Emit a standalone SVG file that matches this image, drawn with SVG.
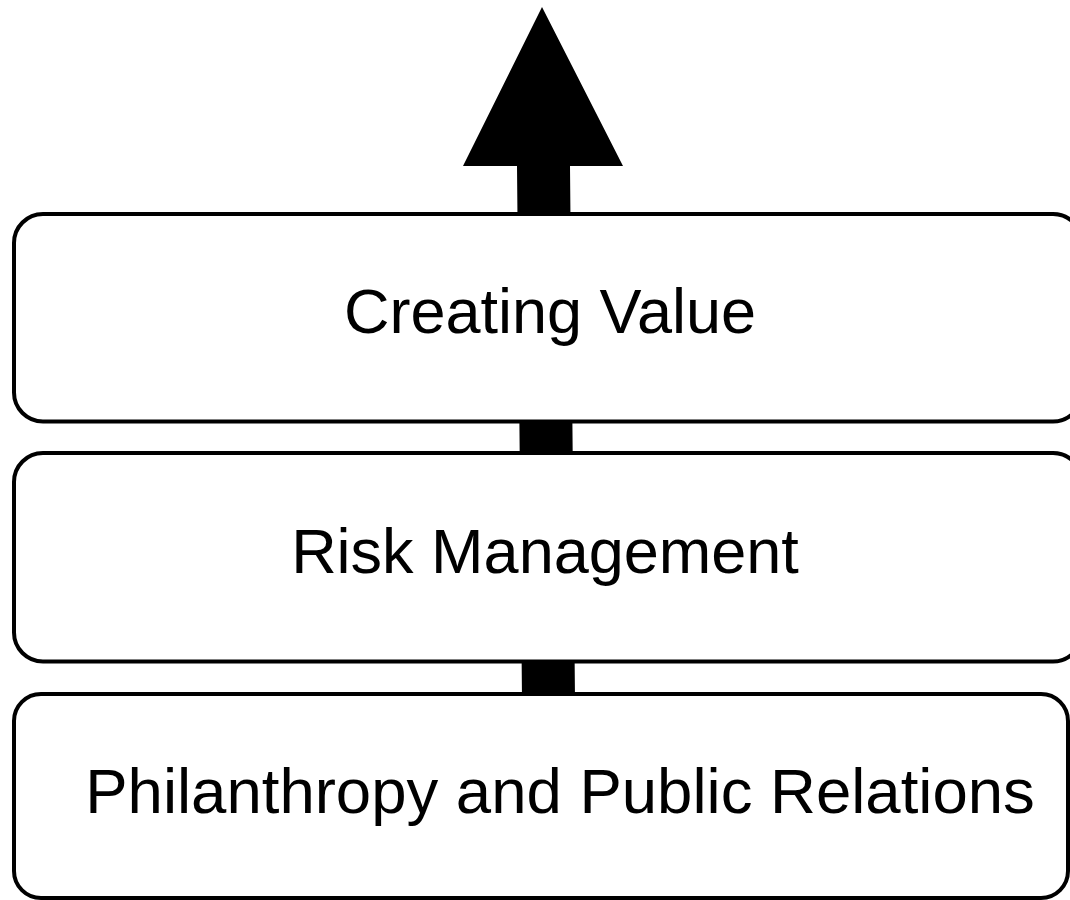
<svg xmlns="http://www.w3.org/2000/svg" width="1070" height="900" viewBox="0 0 1070 900">
<style>
.box{fill:#fff;stroke:#000;stroke-width:4}
.lbl{font-family:"Liberation Sans",Arial,sans-serif;font-size:63px;fill:#000;text-anchor:middle}
</style>
<rect width="1070" height="900" fill="#fff"/>
<g id="connectors">
<polygon points="542,7 623,166 570,166 575,700 522,700 517,166 463,166" fill="#000"/>
</g>
<g id="node-creating-value">
<rect class="box" x="14" y="214" width="1068" height="207.5" rx="29" ry="29"/>
<text class="lbl" x="550" y="333">Creating Value</text>
</g>
<g id="node-risk-management">
<rect class="box" x="14" y="453" width="1068" height="208.5" rx="29" ry="29"/>
<text class="lbl" x="545" y="573">Risk Management</text>
</g>
<g id="node-philanthropy">
<rect class="box" x="14" y="694" width="1054" height="204" rx="27" ry="27"/>
<text class="lbl" x="560" y="813" style="font-size:63.5px">Philanthropy and Public Relations</text>
</g>
</svg>
